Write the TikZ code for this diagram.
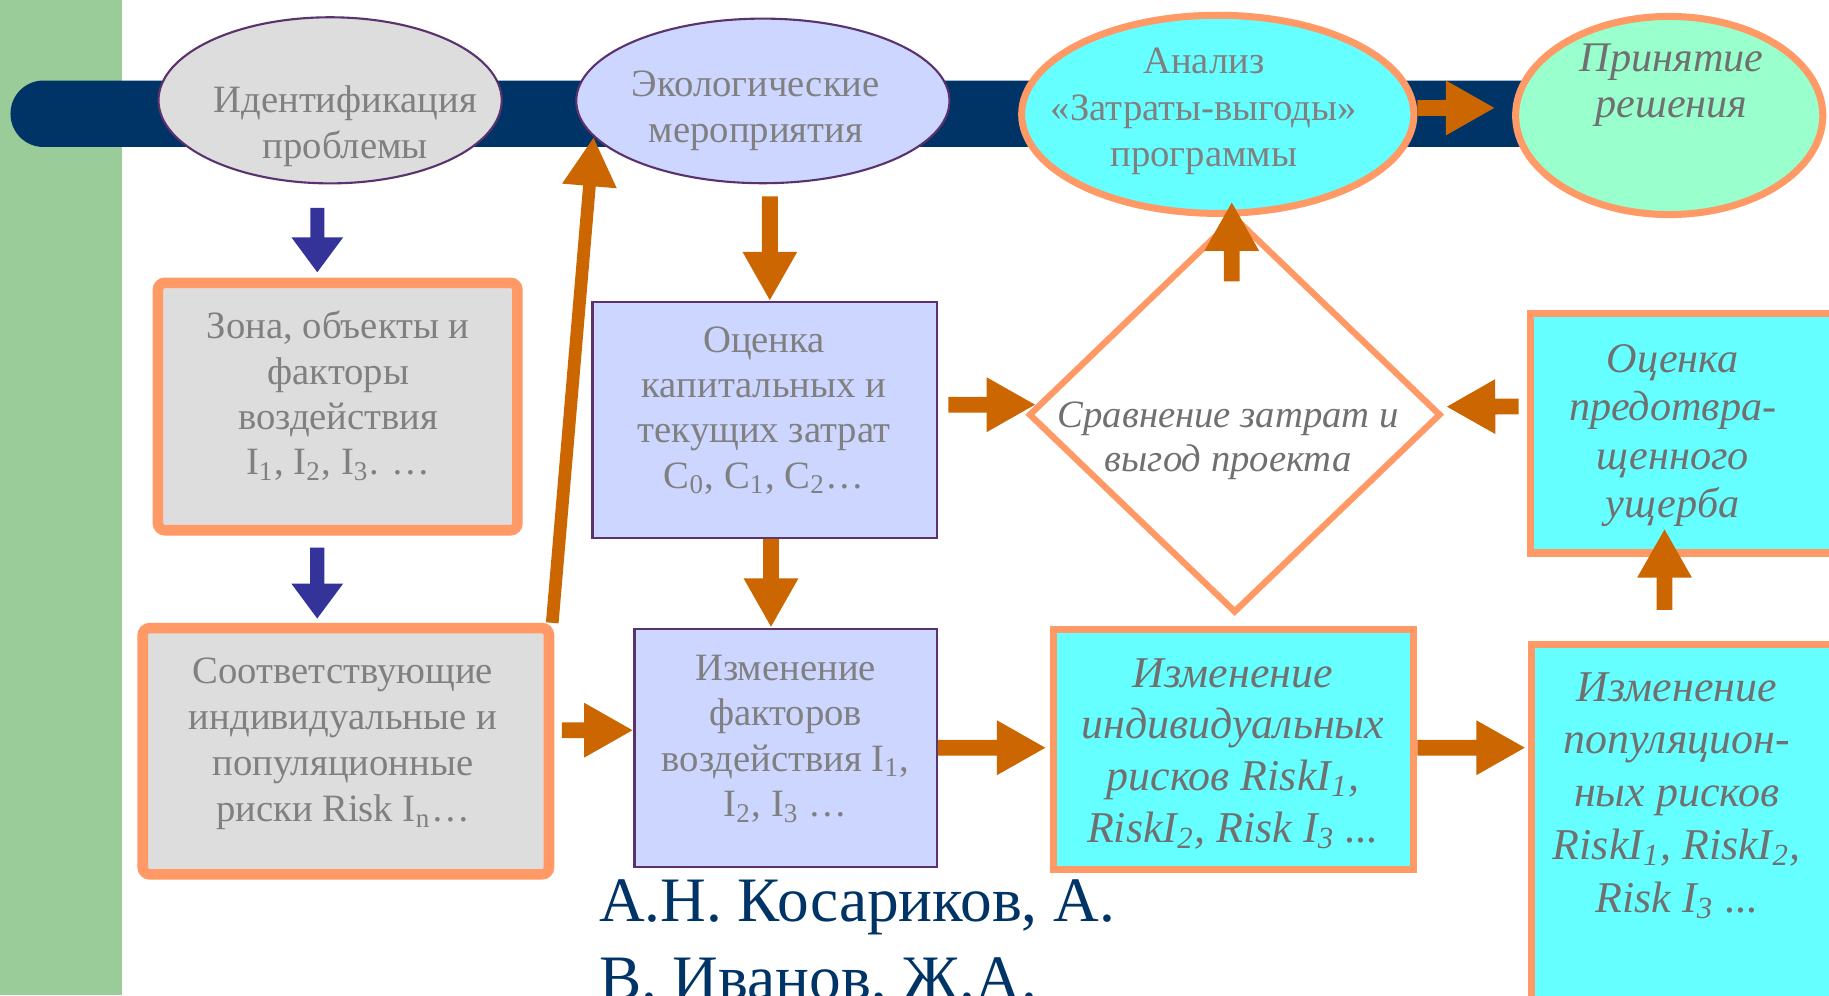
\documentclass[tikz,border=0pt]{standalone}
\usepackage{fontspec}
\setmainfont{Liberation Serif}
\usepackage{tikz}
\usetikzlibrary{arrows.meta}
\usetikzlibrary{shapes.geometric}
\definecolor{stripgreen}{RGB}{153,204,153}
\definecolor{bandnavy}{RGB}{0,51,102}
\definecolor{boxgray}{RGB}{221,221,221}
\definecolor{boxlilac}{RGB}{204,214,255}
\definecolor{boxcyan}{RGB}{102,255,255}
\definecolor{boxmint}{RGB}{153,255,204}
\definecolor{rimorange}{RGB}{255,153,102}
\definecolor{arroworange}{RGB}{204,102,0}
\definecolor{arrowblue}{RGB}{51,51,153}
\definecolor{thinrim}{RGB}{90,50,110}
\definecolor{txtgray}{RGB}{128,128,128}
\definecolor{itgray}{RGB}{112,112,112}

\tikzset{
  graybox/.style={draw=rimorange, fill=boxgray, line width=3pt, rounded corners=2pt, inner sep=0pt},
  lilacbox/.style={draw=thinrim, fill=boxlilac, line width=0.6pt, inner sep=0pt},
  cyanbox/.style={draw=rimorange, fill=boxcyan, line width=2pt, inner sep=0pt},
  txt/.style={text=txtgray, font=\fontsize{11}{12.9}\selectfont, align=center, anchor=base, inner sep=0pt},
  itxt/.style={text=itgray, font=\fontsize{12.5}{14.7}\selectfont\itshape, align=center, anchor=base, inner sep=0pt},
  barrow/.style={draw=arrowblue, line width=4pt, -{Triangle[length=10pt,width=14pt]}},
  oarrow/.style={draw=arroworange, line width=4.5pt, -{Triangle[length=14pt,width=14.5pt]}}
}

\begin{document}
\begin{tikzpicture}[x=0.011665cm, y=-0.011665cm]
  \useasboundingbox (0,0) rectangle (1568,853);
  \clip (0,0) rectangle (1568,853);

  % Background
  \fill[white] (0,0) rectangle (1568,853);
  \fill[stripgreen] (0,0) rectangle (105,853);
  \fill[bandnavy, rounded corners=0.33cm] (9,69) rectangle (1330,126);

  % Top row
  \node[ellipse, draw=thinrim, fill=boxgray, line width=0.6pt, inner sep=0pt, minimum width=3.43cm, minimum height=1.66cm] (ident) at (283,86) {};
  \node[ellipse, draw=thinrim, fill=boxlilac, line width=0.6pt, inner sep=0pt, minimum width=3.73cm, minimum height=1.645cm] (eco) at (654,86.5) {};
  \node[ellipse, draw=rimorange, fill=boxcyan, line width=2pt, inner sep=0pt, minimum width=3.92cm, minimum height=1.98cm] (cba) at (1044,98) {};
  \node[ellipse, draw=rimorange, fill=boxmint, line width=2pt, inner sep=0pt, minimum width=3.07cm, minimum height=1.98cm] (decision) at (1431,99) {};

  % Boxes
  \node[graybox, minimum width=3.593cm, minimum height=2.473cm] (zone) at (289.5,348.5) {};
  \node[graybox, minimum width=4.06cm, minimum height=2.461cm] (risks) at (296.5,644) {};
  \node[lilacbox, minimum width=3.441cm, minimum height=2.356cm] (costs) at (655.5,360) {};
  \node[lilacbox, minimum width=3.021cm, minimum height=2.38cm] (factors) at (673.5,641) {};
  \node[diamond, draw=rimorange, fill=white, line width=1.8pt, inner sep=0pt, minimum width=4.12cm, minimum height=3.96cm] (compare) at (1058.5,355.5) {};
  \node[cyanbox, minimum width=3.604cm, minimum height=2.391cm] (indiv) at (1057.5,642.5) {};
  \node[cyanbox, minimum width=3.359cm, minimum height=2.391cm] (damage) at (1456,371.5) {};
  \node[cyanbox, minimum width=3.348cm, minimum height=4.048cm] (popul) at (1456.5,726.5) {};

  % Texts (placed at the baseline of their last line)
  \node[txt, font=\fontsize{11}{13.2}\selectfont] (identtxt) at (296,136) {Идентификация\\проблемы};
  \node[txt] (ecotxt) at (648,122) {Экологические\\мероприятия};
  \node[txt, font=\fontsize{11}{13.2}\selectfont] (cbatxt) at (1032,143) {Анализ\\«Затраты-выгоды»\\программы};
  \node[itxt, font=\fontsize{12}{13.2}\selectfont\itshape] (decisiontxt) at (1433,101) {Принятие\\решения};
  \node[txt] (zonetxt) at (290,407) {Зона, объекты и\\факторы\\воздействия\\I\textsubscript{1}, I\textsubscript{2}, I\textsubscript{3}. …};
  \node[txt, font=\fontsize{11}{13.1}\selectfont] (riskstxt) at (294,704.5) {Соответствующие\\индивидуальные и\\популяционные\\риски Risk I\textsubscript{n}…};
  \node[txt] (coststxt) at (655,418.5) {Оценка\\капитальных и\\текущих затрат\\C\textsubscript{0}, C\textsubscript{1}, C\textsubscript{2}…};
  \node[txt] (factorstxt) at (673.5,700) {Изменение\\факторов\\воздействия I\textsubscript{1},\\I\textsubscript{2}, I\textsubscript{3} …};
  \node[itxt, font=\fontsize{11}{12.7}\selectfont\itshape] (comparetxt) at (1053,404.5) {Сравнение затрат и\\выгод проекта};
  \node[itxt, font=\fontsize{12}{13.8}\selectfont\itshape] (damagetxt) at (1434,444) {Оценка\\предотвра-\\щенного\\ущерба};
  \node[itxt] (indivtxt) at (1057,722) {Изменение\\индивидуальных\\рисков RiskI\textsubscript{1},\\RiskI\textsubscript{2}, Risk I\textsubscript{3} ...};
  \node[itxt, font=\fontsize{12.5}{15}\selectfont\itshape] (popultxt) at (1437.5,782) {Изменение\\популяцион-\\ных рисков\\RiskI\textsubscript{1}, RiskI\textsubscript{2},\\Risk I\textsubscript{3} ...};
  \node[anchor=base west, align=left, inner sep=0pt, text=bandnavy, font=\fontsize{18}{22.2}\selectfont] (authors) at (513,857) {А.Н. Косариков, А.\\В. Иванов, Ж.А.};

  % Blue arrows
  \draw[barrow] ([xshift=-0.128cm, yshift=-0.233cm]ident.south) -- ([xshift=-0.204cm, yshift=0.05cm]zone.north);
  \draw[barrow] ([xshift=-0.204cm, yshift=-0.122cm]zone.south) -- ([xshift=-0.286cm, yshift=0.04cm]risks.north);

  % Orange arrows
  \draw[oarrow, line width=3.6pt] ([xshift=-0.02cm]risks.north east) -- (eco.192);
  \draw[oarrow] ([xshift=0.07cm, yshift=-0.122cm]eco.south) -- ([xshift=0.052cm]costs.north);
  \draw[oarrow] ([xshift=0.064cm]costs.south) -- ([xshift=-0.146cm]factors.north);
  \draw[oarrow] ([xshift=0.076cm, yshift=0.21cm]risks.east) -- ([yshift=0.175cm]factors.west);
  \draw[oarrow] ([xshift=0.105cm, yshift=0.152cm]costs.east) -- ([xshift=0.105cm, yshift=0.1cm]compare.west);
  \draw[oarrow] ([xshift=-0.03cm, yshift=-0.68cm]compare.north) -- ([xshift=0.14cm, yshift=0.152cm]cba.south);
  \draw[oarrow] ([xshift=-0.082cm, yshift=0.268cm]damage.west) -- ([xshift=0.02cm, yshift=0.08cm]compare.east);
  \draw[oarrow] ([xshift=-0.344cm, yshift=0.315cm]popul.north) -- ([xshift=-0.338cm, yshift=0.28cm]damage.south);
  \draw[oarrow] (factors.east) -- ([xshift=-0.035cm, yshift=0.017cm]indiv.west);
  \draw[oarrow] ([yshift=0.017cm]indiv.east) -- ([xshift=-0.023cm, yshift=0.997cm]popul.west);
  \draw[oarrow] ([yshift=0.064cm]cba.east) -- ([xshift=-0.169cm, yshift=0.076cm]decision.west);
\end{tikzpicture}
\end{document}
